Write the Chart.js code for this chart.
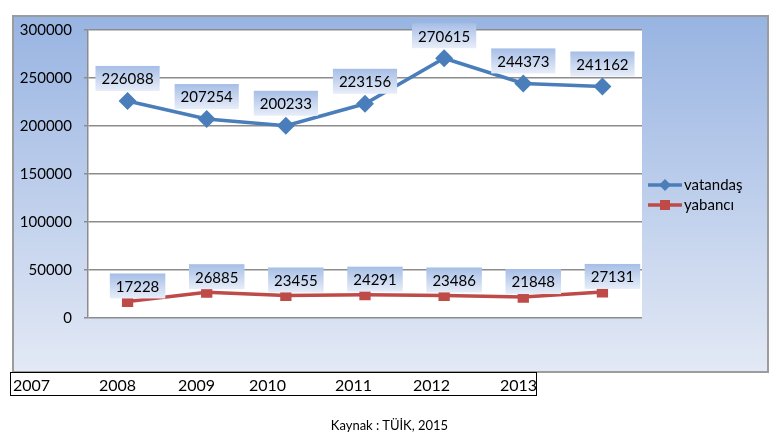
<!DOCTYPE html>
<html>
<head>
<meta charset="utf-8">
<script src="https://cdn.jsdelivr.net/npm/chart.js@4"></script>
<style>
  html, body { margin:0; padding:0; background:#fff; }
  #wrap { position:relative; width:779px; height:438px; font-family: Lato, "Open Sans", sans-serif; }
  #c { position:absolute; left:0; top:0; }
  #years { position:absolute; left:10px; top:372px; width:525px; height:22px; border:1px solid #000; background:#fff; display:flex; }
  #years span { display:block; font-size:16px; line-height:24px; color:#000; padding-left:2px; box-sizing:border-box; }
  #src { position:absolute; left:0; width:779px; top:417px; text-align:center; font-size:13px; color:#000; }
</style>
</head>
<body>
<div id="wrap">
  <canvas id="c" width="779" height="438"></canvas>
  <div id="years"></div>
  <div id="src">Kaynak : TÜİK, 2015</div>
</div>
<script>
// ---- data ----
const years = ['2007', '2008', '2009', '2010', '2011', '2012', '2013'];
const vatandas = [226088, 207254, 200233, 223156, 270615, 244373, 241162];
const yabanci = [17228, 26885, 23455, 24291, 23486, 21848, 27131];
const seriesNames = ['vatandaş', 'yabancı'];
const yMin = 0, yMax = 300000, yStep = 50000;

// ---- year label strip (separate table below the chart) ----
const cellWidths = [86, 79, 71, 86, 78, 87, 38];
const yearsDiv = document.getElementById('years');
years.forEach((y, i) => {
  const s = document.createElement('span');
  s.style.width = cellWidths[i] + 'px';
  s.textContent = y;
  yearsDiv.appendChild(s);
});

const FONT = 'Lato, "Open Sans", sans-serif';

const framePlugin = {
  id: 'frame',
  beforeDraw(chart) {
    const ctx = chart.ctx;
    const ca = chart.chartArea;
    ctx.save();
    const g = ctx.createLinearGradient(0, 16, 0, 372);
    g.addColorStop(0, '#98b4e2');
    g.addColorStop(1, '#e3e9f5');
    ctx.fillStyle = g;
    ctx.fillRect(13, 16, 755, 356);
    ctx.strokeStyle = '#9c9c9c';
    ctx.lineWidth = 2;
    ctx.strokeRect(13, 16, 755, 356);
    ctx.fillStyle = '#ffffff';
    ctx.fillRect(ca.left, ca.top, ca.right - ca.left, ca.bottom - ca.top);
    ctx.restore();
  },
  afterDatasetsDraw(chart) {
    const ctx = chart.ctx;
    ctx.save();
    ctx.font = '15px ' + FONT;
    ctx.textAlign = 'center';
    ctx.textBaseline = 'middle';
    chart.data.datasets.forEach((ds, di) => {
      const meta = chart.getDatasetMeta(di);
      meta.data.forEach((pt, i) => {
        const txt = String(ds.data[i]);
        const tw = ctx.measureText(txt).width;
        const w = tw + 12, h = 25;
        let cx, bottom;
        if (di === 0) { cx = pt.x; bottom = pt.y - 10; }
        else { cx = pt.x + 10; bottom = pt.y - 3; }
        const top = bottom - h;
        const g = ctx.createLinearGradient(0, top, 0, bottom);
        g.addColorStop(0, '#a6bee6');
        g.addColorStop(1, '#e8eef9');
        ctx.fillStyle = g;
        ctx.fillRect(cx - w / 2, top, w, h);
        ctx.fillStyle = '#000';
        ctx.fillText(txt, cx, top + h / 2 + 1);
      });
    });
    ctx.restore();
  },
  afterDraw(chart) {
    const ctx = chart.ctx;
    ctx.save();
    chart.data.datasets.forEach((ds, di) => {
      const y = 185 + di * 20;
      ctx.strokeStyle = ds.borderColor;
      ctx.lineWidth = 3.5;
      ctx.beginPath();
      ctx.moveTo(648, y);
      ctx.lineTo(682, y);
      ctx.stroke();
      ctx.fillStyle = ds.borderColor;
      if (ds.pointStyle === 'rectRot') {
        ctx.beginPath();
        ctx.moveTo(665, y - 6); ctx.lineTo(671, y); ctx.lineTo(665, y + 6); ctx.lineTo(659, y);
        ctx.closePath(); ctx.fill();
      } else {
        ctx.fillRect(660, y - 5, 10, 10);
      }
      ctx.fillStyle = '#000';
      ctx.font = '15px ' + FONT;
      ctx.textAlign = 'left';
      ctx.textBaseline = 'middle';
      ctx.fillText(ds.label, 684, y);
    });
    ctx.restore();
  }
};

new Chart(document.getElementById('c'), {
  type: 'line',
  data: {
    labels: years,
    datasets: [
      {
        label: seriesNames[0],
        data: vatandas,
        borderColor: '#4a7ebb',
        backgroundColor: '#4a7ebb',
        borderWidth: 3.5,
        pointStyle: 'rectRot',
        pointRadius: 6.5,
        pointHoverRadius: 6.5,
        tension: 0
      },
      {
        label: seriesNames[1],
        data: yabanci,
        borderColor: '#be4b48',
        backgroundColor: '#be4b48',
        borderWidth: 3.5,
        pointStyle: 'rect',
        pointRadius: 5.5,
        pointHoverRadius: 5.5,
        tension: 0
      }
    ]
  },
  options: {
    responsive: false,
    animation: false,
    events: [],
    layout: { padding: { left: 10, top: 30, right: 137, bottom: 120 } },
    plugins: { legend: { display: false }, tooltip: { enabled: false } },
    scales: {
      x: { display: false, offset: true },
      y: {
        min: yMin, max: yMax,
        afterFit(scale) { scale.width = 78; },
        ticks: {
          stepSize: yStep, color: '#000', font: { family: FONT, size: 15 }, padding: 12,
          callback: (v) => String(v)
        },
        grid: { color: '#8c8c8c', lineWidth: 1.5, tickLength: 4 },
        border: { color: '#8c8c8c', width: 1.5 }
      }
    }
  },
  plugins: [framePlugin]
});
</script>
</body>
</html>
